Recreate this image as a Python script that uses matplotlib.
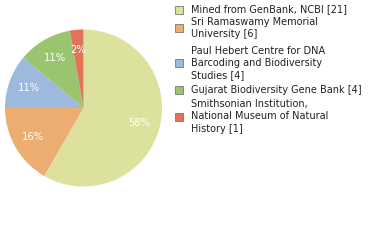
import matplotlib
matplotlib.use("Agg")
import matplotlib.pyplot as plt
from matplotlib.patches import Rectangle

labels = [
    "Mined from GenBank, NCBI [21]",
    "Sri Ramaswamy Memorial\nUniversity [6]",
    "Paul Hebert Centre for DNA\nBarcoding and Biodiversity\nStudies [4]",
    "Gujarat Biodiversity Gene Bank [4]",
    "Smithsonian Institution,\nNational Museum of Natural\nHistory [1]",
]
counts = [21, 6, 4, 4, 1]
colors = ["#dce29e", "#eead70", "#9db9de", "#9bc46f", "#e0735a"]

W, H = 380, 240
fig = plt.figure(figsize=(W / 100, H / 100), dpi=100)

cx, cy, r = 83.5, 108, 78.5
ax = fig.add_axes([(cx - r) / W, (H - cy - r) / H, 2 * r / W, 2 * r / H])
total = sum(counts)
pct = [int(100 * c / total) for c in counts]
wedges, texts = ax.pie(
    counts, colors=colors, startangle=90, counterclock=False,
    labels=[f"{p}%" for p in pct], labeldistance=0.74,
    textprops=dict(color="white", fontsize=7.2, ha="center", va="center"),
    wedgeprops=dict(linewidth=0),
)
ax.set_aspect("auto")
ax.set_xlim(-1, 1)
ax.set_ylim(-1, 1)
ax.axis("off")

# legend rows, vertical centres in pixels from the top
row_mid = [9.5, 28, 63, 90, 116.5]
for lab, col, mid in zip(labels, colors, row_mid):
    fig.patches.append(Rectangle((174.5 / W, 1 - (mid + 4) / H), 8 / W, 8 / H,
                                 transform=fig.transFigure, facecolor=col,
                                 edgecolor="#777777", linewidth=0.6))
    fig.text(191 / W, 1 - mid / H, lab, fontsize=7.0, color="#222222",
             ha="left", va="center", linespacing=1.25)

fig.savefig("out.png", dpi=100)
